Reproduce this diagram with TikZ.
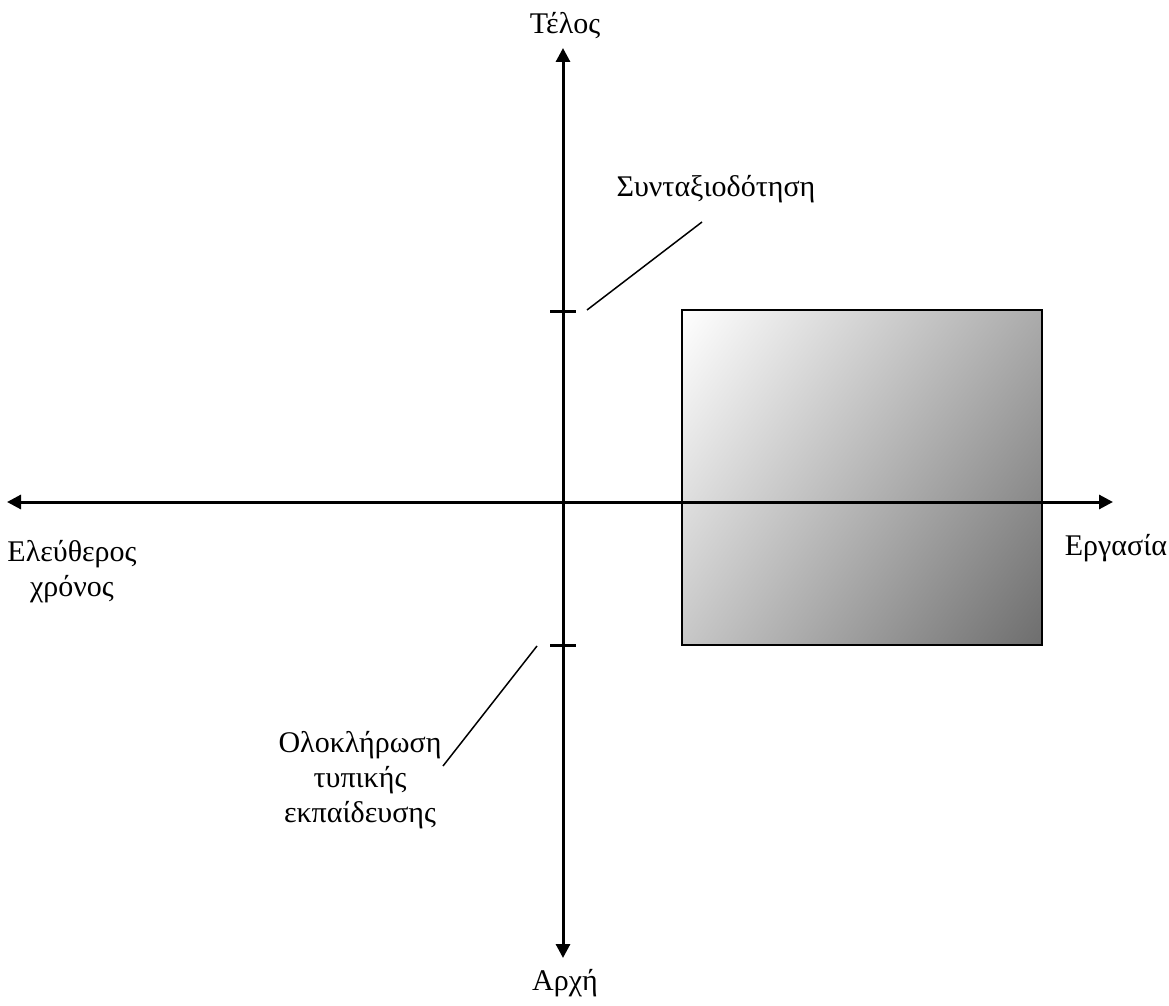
\documentclass[tikz,border=0pt]{standalone}
\usepackage{fontspec}
\setmainfont{Liberation Serif}
\usetikzlibrary{arrows.meta,shadings}

\tikzset{
  axis/.style={line width=1.5pt, arrows={Triangle[length=7pt, width=7pt]-Triangle[length=7pt, width=7pt]}},
  tick/.style={line width=1.5pt},
  pointer/.style={line width=0.75pt},
  label/.style={font=\fontsize{15}{17.5}\selectfont, align=center, inner sep=0pt}
}

\begin{document}
\begin{tikzpicture}[x=0.5pt, y=-0.5pt]

\useasboundingbox (0,0) rectangle (1169,1006);

%% shaded box
\shade[upper left=white, upper right=black!33, lower left=black!22, lower right=black!57]
  (682,310) rectangle (1042,645);
\draw[line width=0.6pt] (682,310) rectangle (1042,645);

%% axes
\coordinate (top) at (563,48);
\coordinate (bottom) at (563,958);
\coordinate (left) at (7,502);
\coordinate (right) at (1113,502);

\draw[axis] (left) -- (right);
\draw[axis] (bottom) -- (top);

%% ticks
\coordinate (tickA) at (563,311);
\coordinate (tickB) at (563,645);
\draw[tick] ([xshift=-6.5pt]tickA) -- ([xshift=6.5pt]tickA);
\draw[tick] ([xshift=-6.5pt]tickB) -- ([xshift=6.5pt]tickB);

%% axis labels
\node[label] (telos) at (565,26) {Τέλος};
\node[label] (arxi) at (565,983) {Αρχή};
\node[label] (ergasia) at (1116,548) {Εργασία};
\node[label] (eleftheros) at (72,572) {Ελεύθερος\\χρόνος};

%% milestones
\node[label] (syntaxi) at (716,189) {Συνταξιοδότηση};
\coordinate (syntaxiA) at (702,222);
\coordinate (syntaxiB) at (587,310);
\draw[pointer] (syntaxiA) -- (syntaxiB);

\node[label] (oloklirosi) at (360,780) {Ολοκλήρωση\\τυπικής\\εκπαίδευσης};
\coordinate (oloklA) at (537,646);
\coordinate (oloklB) at (443,766);
\draw[pointer] (oloklA) -- (oloklB);

\end{tikzpicture}
\end{document}
